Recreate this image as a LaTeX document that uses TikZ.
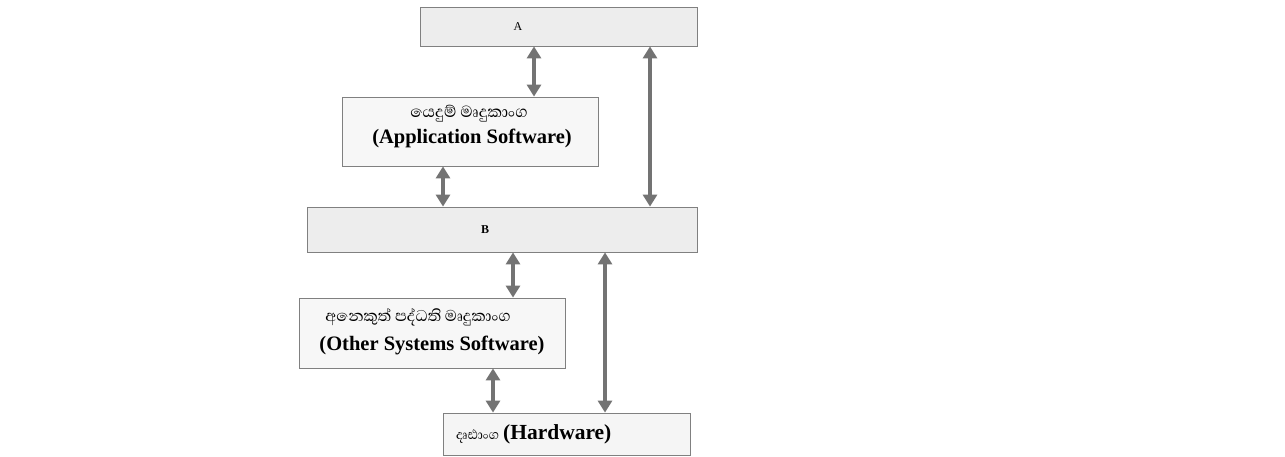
\documentclass[tikz,border=0pt]{standalone}
\usepackage{fontspec}
\setmainfont{Liberation Serif}
\newfontfamily\sinhala[Script=Sinhala]{Abhaya Libre}
\usetikzlibrary{arrows.meta}

\begin{document}
\begin{tikzpicture}[x=1pt,y=-1pt]
\tikzstyle{every node}+=[inner sep=0pt]
\tikzstyle{layer}=[draw=black!50, line width=0.8pt, fill=black!7]
\tikzstyle{softlayer}=[layer, fill=black!3]
\tikzstyle{eng}=[font=\fontsize{20.5}{22}\selectfont\bfseries]
\tikzstyle{sin}=[font=\fontsize{20.5}{22}\sinhala]
\tikzstyle{link}=[{Triangle[width=14pt,length=12pt]}-{Triangle[width=14pt,length=12pt]}, line width=4pt, draw=black!55]
\useasboundingbox (0,0) rectangle (1285,456);
% layers
\node[layer, minimum width=277pt, minimum height=39pt] (A) at (558.5,26.5) {};
\node[font=\fontsize{12}{14}\selectfont] (Atxt) at (518,27) {A};
\node[softlayer, minimum width=256pt, minimum height=69pt] (app) at (470,131.5) {};
\node[sin] (appsi) at (469,114) {යෙදුම් මෘදුකාංග};
\node[eng] (appen) at (472,138) {(Application Software)};
\node[layer, minimum width=390pt, minimum height=45pt] (B) at (502,229.5) {};
\node[font=\fontsize{12}{14}\selectfont\bfseries] (Btxt) at (485,230) {B};
\node[softlayer, minimum width=266pt, minimum height=70pt] (other) at (432,333) {};
\node[font=\fontsize{20}{22}\sinhala] (othersi) at (418,317) {අනෙකුත් පද්ධති මෘදුකාංග};
\node[eng] (otheren) at (432,345) {(Other Systems Software)};
\node[layer, fill=black!4, minimum width=247pt, minimum height=42pt] (hw) at (566.5,434) {};
\node[anchor=west] (hwtxt) at (456,434) {{\sinhala\fontsize{17}{18}\selectfont දෘඪාංග}\hspace{4pt}{\fontsize{21.5}{24}\selectfont\bfseries (Hardware)}};
% columns of the arrows
\coordinate (c1) at (534,0);
\coordinate (c2) at (650,0);
\coordinate (c3) at (443,0);
\coordinate (c4) at (513,0);
\coordinate (c5) at (605,0);
\coordinate (c6) at (493,0);
\draw[link] (A.south -| c1) -- (app.north -| c1);
\draw[link] (A.south -| c2) -- (B.north -| c2);
\draw[link] (app.south -| c3) -- (B.north -| c3);
\draw[link] (B.south -| c4) -- (other.north -| c4);
\draw[link] (B.south -| c5) -- (hw.north -| c5);
\draw[link] (other.south -| c6) -- (hw.north -| c6);
\end{tikzpicture}
\end{document}
